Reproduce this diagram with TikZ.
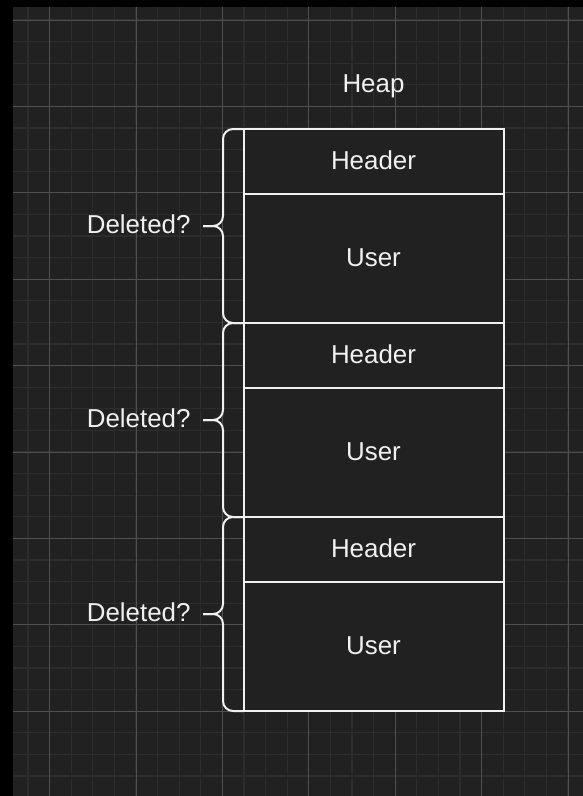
\documentclass[tikz,border=0pt]{standalone}
\usepackage{fontspec}
\setmainfont{Liberation Sans}
\usetikzlibrary{calc}
\definecolor{bgc}{HTML}{212121}
\definecolor{minorc}{HTML}{2C2C2C}
\definecolor{majorc}{HTML}{505050}
\definecolor{fgc}{HTML}{F0F0F0}
\tikzset{
  lbl/.style={text=fgc, inner sep=0pt, outer sep=0pt, font=\fontsize{25.9}{30}\selectfont, text height=18.7pt, text depth=3pt},
  cell/.style={lbl, draw=fgc, line width=2pt, fill=bgc, minimum width=260pt},
  hdr/.style={cell, minimum height=64.67pt},
  usr/.style={cell, minimum height=129.33pt},
  brace/.style={draw=fgc, line width=2pt, rounded corners=10pt},
}
\begin{document}
\begin{tikzpicture}[x=1pt,y=-1pt]
\useasboundingbox (0,0) rectangle (583,796);
\fill[black] (0,0) rectangle (583,796);
\fill[bgc] (13,7) rectangle (583,796);
\begin{scope}
\clip (13,7) rectangle (583,796);
\foreach \i in {0,...,26} \draw[minorc, line width=1.2pt] ({28+21.6*\i},7) -- ({28+21.6*\i},796);
\foreach \i in {0,...,35} \draw[minorc, line width=1.2pt] (13,{20+21.6*\i}) -- (583,{20+21.6*\i});
\foreach \i in {0,...,6} \draw[majorc, line width=1pt] ({49.6+86.4*\i},7) -- ({49.6+86.4*\i},796);
\foreach \i in {0,...,8} \draw[majorc, line width=1pt] (13,{20+86.4*\i}) -- (583,{20+86.4*\i});
\end{scope}

\node[lbl] (heap) at (373.5,84.5) {Heap};

\node[hdr] (h1) at (373.5,{129+32.33}) {Header};
\node[usr, anchor=north] (u1) at (h1.south) {User};
\node[hdr, anchor=north] (h2) at (u1.south) {Header};
\node[usr, anchor=north] (u2) at (h2.south) {User};
\node[hdr, anchor=north] (h3) at (u2.south) {Header};
\node[usr, anchor=north] (u3) at (h3.south) {User};

\foreach \k in {1,2,3}{
  \coordinate (m\k) at ($(h\k.north west)!0.5!(u\k.south west)$);
  \draw[brace] (h\k.north west) -- ++(-20.5,0) |- ($(m\k)+(-40.5,0)$);
  \draw[brace] (u\k.south west) -- ++(-20.5,0) |- ($(m\k)+(-40.5,0)$);
  \node[lbl, anchor=east] (d\k) at ($(m\k)+(-53,0)$) {Deleted?};
}
\end{tikzpicture}
\end{document}
